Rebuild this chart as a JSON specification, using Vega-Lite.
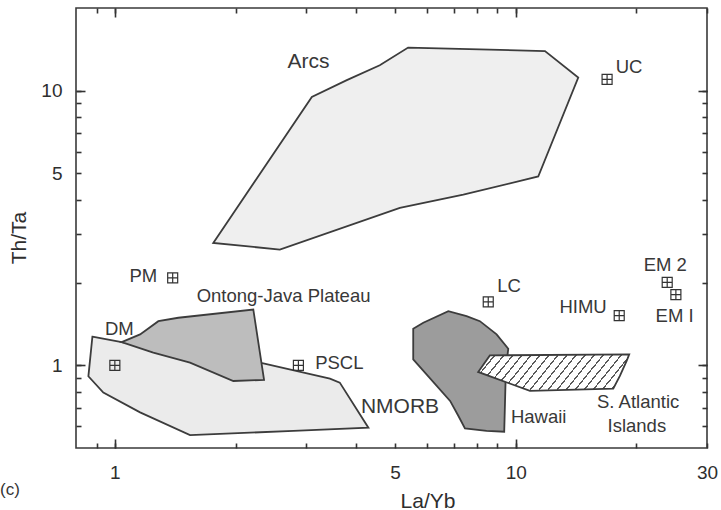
{
  "$schema": "https://vega.github.io/schema/vega-lite/v6.json",
  "width": 631,
  "height": 440,
  "autosize": "none",
  "padding": {"left": 76, "top": 8, "right": 14, "bottom": 62},
  "background": "white",
  "title": {"text": "(c)", "orient": "bottom", "anchor": "start", "frame": "bounds", "fontSize": 17, "fontWeight": "normal", "color": "#333333", "font": "Liberation Sans", "baseline": "alphabetic", "offset": 0, "dx": -8, "dy": -16},
  "config": {
    "view": {"stroke": "#3a3a3a", "strokeWidth": 1.6},
    "font": "Liberation Sans",
    "axis": {
      "domain": false, "grid": false,
      "labelFont": "Liberation Sans", "labelFontSize": 19, "labelColor": "#2e2e2e",
      "titleFont": "Liberation Sans", "titleFontSize": 21, "titleFontWeight": "normal", "titleColor": "#2e2e2e",
      "labelFlush": false, "labelOverlap": false
    }
  },
  "datasets": {
    "polygons": [
      {"poly": "Arcs", "i": 1, "x": 5.39, "y": 14.35},
      {"poly": "Arcs", "i": 2, "x": 11.83, "y": 13.94},
      {"poly": "Arcs", "i": 3, "x": 14.32, "y": 11.16},
      {"poly": "Arcs", "i": 4, "x": 11.38, "y": 4.87},
      {"poly": "Arcs", "i": 5, "x": 7.40, "y": 4.18},
      {"poly": "Arcs", "i": 6, "x": 5.14, "y": 3.74},
      {"poly": "Arcs", "i": 7, "x": 2.58, "y": 2.64},
      {"poly": "Arcs", "i": 8, "x": 1.76, "y": 2.79},
      {"poly": "Arcs", "i": 9, "x": 3.10, "y": 9.49},
      {"poly": "Arcs", "i": 10, "x": 3.79, "y": 10.92},
      {"poly": "Arcs", "i": 11, "x": 4.58, "y": 12.38},
      {"poly": "NMORB", "i": 1, "x": 0.879, "y": 1.271},
      {"poly": "NMORB", "i": 2, "x": 1.040, "y": 1.215},
      {"poly": "NMORB", "i": 3, "x": 2.346, "y": 1.017},
      {"poly": "NMORB", "i": 4, "x": 3.44, "y": 0.895},
      {"poly": "NMORB", "i": 5, "x": 3.64, "y": 0.865},
      {"poly": "NMORB", "i": 6, "x": 4.29, "y": 0.593},
      {"poly": "NMORB", "i": 7, "x": 2.79, "y": 0.577},
      {"poly": "NMORB", "i": 8, "x": 1.540, "y": 0.557},
      {"poly": "NMORB", "i": 9, "x": 1.156, "y": 0.674},
      {"poly": "NMORB", "i": 10, "x": 0.936, "y": 0.796},
      {"poly": "NMORB", "i": 11, "x": 0.859, "y": 0.912},
      {"poly": "OJP", "i": 1, "x": 1.040, "y": 1.215},
      {"poly": "OJP", "i": 2, "x": 1.156, "y": 1.296},
      {"poly": "OJP", "i": 3, "x": 1.284, "y": 1.448},
      {"poly": "OJP", "i": 4, "x": 1.440, "y": 1.490},
      {"poly": "OJP", "i": 5, "x": 2.215, "y": 1.597},
      {"poly": "OJP", "i": 6, "x": 2.356, "y": 0.885},
      {"poly": "OJP", "i": 7, "x": 1.975, "y": 0.877},
      {"poly": "OJP", "i": 8, "x": 1.540, "y": 1.023},
      {"poly": "OJP", "i": 9, "x": 1.247, "y": 1.112},
      {"poly": "Hawaii", "i": 1, "x": 5.55, "y": 1.359},
      {"poly": "Hawaii", "i": 2, "x": 5.88, "y": 1.429},
      {"poly": "Hawaii", "i": 3, "x": 6.79, "y": 1.575},
      {"poly": "Hawaii", "i": 4, "x": 7.54, "y": 1.510},
      {"poly": "Hawaii", "i": 5, "x": 8.14, "y": 1.448},
      {"poly": "Hawaii", "i": 6, "x": 8.96, "y": 1.296},
      {"poly": "Hawaii", "i": 7, "x": 9.58, "y": 1.150},
      {"poly": "Hawaii", "i": 8, "x": 9.45, "y": 0.967},
      {"poly": "Hawaii", "i": 9, "x": 9.36, "y": 0.573},
      {"poly": "Hawaii", "i": 10, "x": 8.46, "y": 0.577},
      {"poly": "Hawaii", "i": 11, "x": 7.47, "y": 0.589},
      {"poly": "Hawaii", "i": 12, "x": 7.19, "y": 0.655},
      {"poly": "Hawaii", "i": 13, "x": 6.86, "y": 0.742},
      {"poly": "Hawaii", "i": 14, "x": 5.55, "y": 1.051},
      {"poly": "SAI", "i": 1, "x": 8.62, "y": 1.087},
      {"poly": "SAI", "i": 2, "x": 19.19, "y": 1.096},
      {"poly": "SAI", "i": 3, "x": 18.91, "y": 1.037},
      {"poly": "SAI", "i": 4, "x": 18.19, "y": 0.915},
      {"poly": "SAI", "i": 5, "x": 17.51, "y": 0.823},
      {"poly": "SAI", "i": 6, "x": 10.85, "y": 0.807},
      {"poly": "SAI", "i": 7, "x": 8.06, "y": 0.946}
    ],
    "points": [
      {"name": "UC", "x": 16.9, "y": 11.0},
      {"name": "PM", "x": 1.394, "y": 2.081},
      {"name": "DM", "x": 1.0, "y": 1.0},
      {"name": "PSCL", "x": 2.87, "y": 1.0},
      {"name": "LC", "x": 8.54, "y": 1.703},
      {"name": "HIMU", "x": 18.12, "y": 1.518},
      {"name": "EM 2", "x": 23.87, "y": 2.006},
      {"name": "EM I", "x": 25.09, "y": 1.810}
    ],
    "labels": [
      {"text": "UC", "x": 17.76, "y": 12.2},
      {"text": "LC", "x": 8.99, "y": 1.946},
      {"text": "PSCL", "x": 3.16, "y": 1.019},
      {"text": "Hawaii", "x": 9.73, "y": 0.651},
      {"text": "DM", "x": 0.945, "y": 1.351},
      {"text": "Ontong-Java Plateau", "x": 1.600, "y": 1.784},
      {"text": "NMORB", "x": 4.11, "y": 0.707},
      {"text": "PM", "x": 1.276, "y": 2.110},
      {"text": "HIMU", "x": 16.86, "y": 1.633},
      {"text": "EM 2", "x": 23.6, "y": 2.326},
      {"text": "EM I", "x": 24.9, "y": 1.510},
      {"text": "S. Atlantic", "x": 20.2, "y": 0.738},
      {"text": "Islands", "x": 20.05, "y": 0.599},
      {"text": "Arcs", "x": 3.04, "y": 12.72}
    ]
  },
  "resolve": {"axis": {"x": "independent", "y": "independent"}},
  "layer": [
    {
      "data": {"name": "polygons"},
      "transform": [{"filter": "datum.poly === 'Arcs'"}],
      "mark": {"type": "line", "interpolate": "linear-closed", "fill": "#efefef", "stroke": "#3c3c3c", "strokeWidth": 1.8},
      "encoding": {
        "x": {"field": "x", "type": "quantitative", "scale": {"type": "log", "domain": [0.8, 30], "nice": false},
          "axis": {"orient": "bottom", "offset": -5, "ticks": true, "tickSize": 5, "tickColor": "#333333", "tickWidth": 1.6, "tickOpacity": 1, "labelPadding": 15, "values": [0.9, 1, 2, 3, 4, 5, 6, 7, 8, 9, 10, 20, 30],
            "labelExpr": "(datum.value === 1 || datum.value === 5 || datum.value === 10 || datum.value === 30) ? '' + datum.value : ''",
            "title": "La/Yb", "titleX": 351.5, "titleY": 64, "titleBaseline": "alphabetic"}},
        "y": {"field": "y", "type": "quantitative", "scale": {"type": "log", "domain": [0.5, 20], "nice": false},
          "axis": {"orient": "left", "offset": -5, "ticks": true, "tickSize": 5, "tickColor": "#333333", "tickWidth": 1.6, "tickOpacity": 1, "labelPadding": 14, "values": [0.6, 0.7, 0.8, 0.9, 1, 2, 3, 4, 5, 6, 7, 8, 9, 10],
            "labelExpr": "(datum.value === 1 || datum.value === 5 || datum.value === 10) ? '' + datum.value : ''",
            "title": "Th/Ta", "titleX": -56, "titleY": 229.5, "titleBaseline": "alphabetic"}},
        "order": {"field": "i", "type": "quantitative"}
      }
    },
    {
      "data": {"name": "polygons"},
      "transform": [{"filter": "datum.poly === 'NMORB'"}],
      "mark": {"type": "line", "interpolate": "linear-closed", "fill": "#ebebeb", "stroke": "#3c3c3c", "strokeWidth": 1.8},
      "encoding": {
        "x": {"field": "x", "type": "quantitative", "scale": {"type": "log", "domain": [0.8, 30], "nice": false},
          "axis": {"orient": "top", "offset": -5, "ticks": true, "tickSize": 5, "tickColor": "#333333", "tickWidth": 1.6, "tickOpacity": 1, "values": [0.9, 1, 2, 3, 4, 5, 6, 7, 8, 9, 10, 20, 30], "labels": false, "title": null}},
        "y": {"field": "y", "type": "quantitative", "scale": {"type": "log", "domain": [0.5, 20], "nice": false},
          "axis": {"orient": "right", "offset": -5, "ticks": true, "tickSize": 5, "tickColor": "#333333", "tickWidth": 1.6, "tickOpacity": 1, "values": [0.6, 0.7, 0.8, 0.9, 1, 2, 3, 4, 5, 6, 7, 8, 9, 10], "labels": false, "title": null}},
        "order": {"field": "i", "type": "quantitative"}
      }
    },
    {
      "data": {"name": "polygons"},
      "transform": [{"filter": "datum.poly === 'OJP'"}],
      "mark": {"type": "line", "interpolate": "linear-closed", "fill": "#bdbdbd", "stroke": "#3c3c3c", "strokeWidth": 1.8},
      "encoding": {
        "x": {"field": "x", "type": "quantitative", "scale": {"type": "log", "domain": [0.8, 30], "nice": false},
          "axis": {"orient": "bottom", "offset": -9, "ticks": true, "tickSize": 9, "tickColor": "#333333", "tickWidth": 1.6, "tickOpacity": 1, "values": [1, 10], "labels": false, "title": null}},
        "y": {"field": "y", "type": "quantitative", "scale": {"type": "log", "domain": [0.5, 20], "nice": false},
          "axis": {"orient": "left", "offset": -9, "ticks": true, "tickSize": 9, "tickColor": "#333333", "tickWidth": 1.6, "tickOpacity": 1, "values": [1, 10], "labels": false, "title": null}},
        "order": {"field": "i", "type": "quantitative"}
      }
    },
    {
      "data": {"name": "polygons"},
      "transform": [{"filter": "datum.poly === 'Hawaii'"}],
      "mark": {"type": "line", "interpolate": "linear-closed", "fill": "#9c9c9c", "stroke": "#3c3c3c", "strokeWidth": 1.8},
      "encoding": {
        "x": {"field": "x", "type": "quantitative", "scale": {"type": "log", "domain": [0.8, 30], "nice": false},
          "axis": {"orient": "top", "offset": -9, "ticks": true, "tickSize": 9, "tickColor": "#333333", "tickWidth": 1.6, "tickOpacity": 1, "values": [1, 10], "labels": false, "title": null}},
        "y": {"field": "y", "type": "quantitative", "scale": {"type": "log", "domain": [0.5, 20], "nice": false},
          "axis": {"orient": "right", "offset": -9, "ticks": true, "tickSize": 9, "tickColor": "#333333", "tickWidth": 1.6, "tickOpacity": 1, "values": [1, 10], "labels": false, "title": null}},
        "order": {"field": "i", "type": "quantitative"}
      }
    },
    {
      "data": {"name": "polygons"},
      "transform": [{"filter": "datum.poly === 'SAI'"}],
      "mark": {"type": "line", "interpolate": "linear-closed", "stroke": "#3c3c3c", "strokeWidth": 1.8,
        "fill": {"gradient": "linear", "x1": 0, "y1": 0, "x2": 1.1509, "y2": 0.2237, "stops": [
          {"offset": 0, "color": "#ffffff"}, {"offset": 0.041, "color": "#ffffff"}, {"offset": 0.041, "color": "#5a5a5a"}, {"offset": 0.05, "color": "#5a5a5a"},
          {"offset": 0.05, "color": "#ffffff"}, {"offset": 0.091, "color": "#ffffff"}, {"offset": 0.091, "color": "#5a5a5a"}, {"offset": 0.1, "color": "#5a5a5a"},
          {"offset": 0.1, "color": "#ffffff"}, {"offset": 0.141, "color": "#ffffff"}, {"offset": 0.141, "color": "#5a5a5a"}, {"offset": 0.15, "color": "#5a5a5a"},
          {"offset": 0.15, "color": "#ffffff"}, {"offset": 0.191, "color": "#ffffff"}, {"offset": 0.191, "color": "#5a5a5a"}, {"offset": 0.2, "color": "#5a5a5a"},
          {"offset": 0.2, "color": "#ffffff"}, {"offset": 0.241, "color": "#ffffff"}, {"offset": 0.241, "color": "#5a5a5a"}, {"offset": 0.25, "color": "#5a5a5a"},
          {"offset": 0.25, "color": "#ffffff"}, {"offset": 0.291, "color": "#ffffff"}, {"offset": 0.291, "color": "#5a5a5a"}, {"offset": 0.3, "color": "#5a5a5a"},
          {"offset": 0.3, "color": "#ffffff"}, {"offset": 0.341, "color": "#ffffff"}, {"offset": 0.341, "color": "#5a5a5a"}, {"offset": 0.35, "color": "#5a5a5a"},
          {"offset": 0.35, "color": "#ffffff"}, {"offset": 0.391, "color": "#ffffff"}, {"offset": 0.391, "color": "#5a5a5a"}, {"offset": 0.4, "color": "#5a5a5a"},
          {"offset": 0.4, "color": "#ffffff"}, {"offset": 0.441, "color": "#ffffff"}, {"offset": 0.441, "color": "#5a5a5a"}, {"offset": 0.45, "color": "#5a5a5a"},
          {"offset": 0.45, "color": "#ffffff"}, {"offset": 0.491, "color": "#ffffff"}, {"offset": 0.491, "color": "#5a5a5a"}, {"offset": 0.5, "color": "#5a5a5a"},
          {"offset": 0.5, "color": "#ffffff"}, {"offset": 0.541, "color": "#ffffff"}, {"offset": 0.541, "color": "#5a5a5a"}, {"offset": 0.55, "color": "#5a5a5a"},
          {"offset": 0.55, "color": "#ffffff"}, {"offset": 0.591, "color": "#ffffff"}, {"offset": 0.591, "color": "#5a5a5a"}, {"offset": 0.6, "color": "#5a5a5a"},
          {"offset": 0.6, "color": "#ffffff"}, {"offset": 0.641, "color": "#ffffff"}, {"offset": 0.641, "color": "#5a5a5a"}, {"offset": 0.65, "color": "#5a5a5a"},
          {"offset": 0.65, "color": "#ffffff"}, {"offset": 0.691, "color": "#ffffff"}, {"offset": 0.691, "color": "#5a5a5a"}, {"offset": 0.7, "color": "#5a5a5a"},
          {"offset": 0.7, "color": "#ffffff"}, {"offset": 0.741, "color": "#ffffff"}, {"offset": 0.741, "color": "#5a5a5a"}, {"offset": 0.75, "color": "#5a5a5a"},
          {"offset": 0.75, "color": "#ffffff"}, {"offset": 0.791, "color": "#ffffff"}, {"offset": 0.791, "color": "#5a5a5a"}, {"offset": 0.8, "color": "#5a5a5a"},
          {"offset": 0.8, "color": "#ffffff"}, {"offset": 0.841, "color": "#ffffff"}, {"offset": 0.841, "color": "#5a5a5a"}, {"offset": 0.85, "color": "#5a5a5a"},
          {"offset": 0.85, "color": "#ffffff"}, {"offset": 0.891, "color": "#ffffff"}, {"offset": 0.891, "color": "#5a5a5a"}, {"offset": 0.9, "color": "#5a5a5a"},
          {"offset": 0.9, "color": "#ffffff"}, {"offset": 0.941, "color": "#ffffff"}, {"offset": 0.941, "color": "#5a5a5a"}, {"offset": 0.95, "color": "#5a5a5a"},
          {"offset": 0.95, "color": "#ffffff"}, {"offset": 0.991, "color": "#ffffff"}, {"offset": 0.991, "color": "#5a5a5a"}, {"offset": 1, "color": "#5a5a5a"}
        ]}},
      "encoding": {
        "x": {"field": "x", "type": "quantitative", "scale": {"type": "log", "domain": [0.8, 30], "nice": false}, "axis": null},
        "y": {"field": "y", "type": "quantitative", "scale": {"type": "log", "domain": [0.5, 20], "nice": false}, "axis": null},
        "order": {"field": "i", "type": "quantitative"}
      }
    },
    {
      "data": {"name": "points"},
      "mark": {"type": "point", "shape": "M-1,-1H1V1H-1Z M0,-1V1 M-1,0H1", "size": 100, "filled": false, "stroke": "#333333", "strokeWidth": 1.2, "opacity": 1},
      "encoding": {
        "x": {"field": "x", "type": "quantitative", "scale": {"type": "log", "domain": [0.8, 30], "nice": false}, "axis": null},
        "y": {"field": "y", "type": "quantitative", "scale": {"type": "log", "domain": [0.5, 20], "nice": false}, "axis": null}
      }
    },
    {
      "data": {"name": "labels"},
      "transform": [{"filter": {"field": "text", "oneOf": ["UC", "LC", "PSCL", "Hawaii", "DM", "Ontong-Java Plateau"]}}],
      "mark": {"type": "text", "align": "left", "baseline": "middle", "fontSize": 18.5, "color": "#383838", "font": "Liberation Sans"},
      "encoding": {
        "x": {"field": "x", "type": "quantitative", "scale": {"type": "log", "domain": [0.8, 30], "nice": false}, "axis": null},
        "y": {"field": "y", "type": "quantitative", "scale": {"type": "log", "domain": [0.5, 20], "nice": false}, "axis": null},
        "text": {"field": "text"}
      }
    },
    {
      "data": {"name": "labels"},
      "transform": [{"filter": {"field": "text", "oneOf": ["NMORB"]}}],
      "mark": {"type": "text", "align": "left", "baseline": "middle", "fontSize": 21, "color": "#383838", "font": "Liberation Sans"},
      "encoding": {
        "x": {"field": "x", "type": "quantitative", "scale": {"type": "log", "domain": [0.8, 30], "nice": false}, "axis": null},
        "y": {"field": "y", "type": "quantitative", "scale": {"type": "log", "domain": [0.5, 20], "nice": false}, "axis": null},
        "text": {"field": "text"}
      }
    },
    {
      "data": {"name": "labels"},
      "transform": [{"filter": {"field": "text", "oneOf": ["PM", "HIMU"]}}],
      "mark": {"type": "text", "align": "right", "baseline": "middle", "fontSize": 18.5, "color": "#383838", "font": "Liberation Sans"},
      "encoding": {
        "x": {"field": "x", "type": "quantitative", "scale": {"type": "log", "domain": [0.8, 30], "nice": false}, "axis": null},
        "y": {"field": "y", "type": "quantitative", "scale": {"type": "log", "domain": [0.5, 20], "nice": false}, "axis": null},
        "text": {"field": "text"}
      }
    },
    {
      "data": {"name": "labels"},
      "transform": [{"filter": {"field": "text", "oneOf": ["EM 2", "EM I", "S. Atlantic", "Islands"]}}],
      "mark": {"type": "text", "align": "center", "baseline": "middle", "fontSize": 18.5, "color": "#383838", "font": "Liberation Sans"},
      "encoding": {
        "x": {"field": "x", "type": "quantitative", "scale": {"type": "log", "domain": [0.8, 30], "nice": false}, "axis": null},
        "y": {"field": "y", "type": "quantitative", "scale": {"type": "log", "domain": [0.5, 20], "nice": false}, "axis": null},
        "text": {"field": "text"}
      }
    },
    {
      "data": {"name": "labels"},
      "transform": [{"filter": {"field": "text", "oneOf": ["Arcs"]}}],
      "mark": {"type": "text", "align": "center", "baseline": "middle", "fontSize": 21, "color": "#383838", "font": "Liberation Sans"},
      "encoding": {
        "x": {"field": "x", "type": "quantitative", "scale": {"type": "log", "domain": [0.8, 30], "nice": false}, "axis": null},
        "y": {"field": "y", "type": "quantitative", "scale": {"type": "log", "domain": [0.5, 20], "nice": false}, "axis": null},
        "text": {"field": "text"}
      }
    }
  ]
}
